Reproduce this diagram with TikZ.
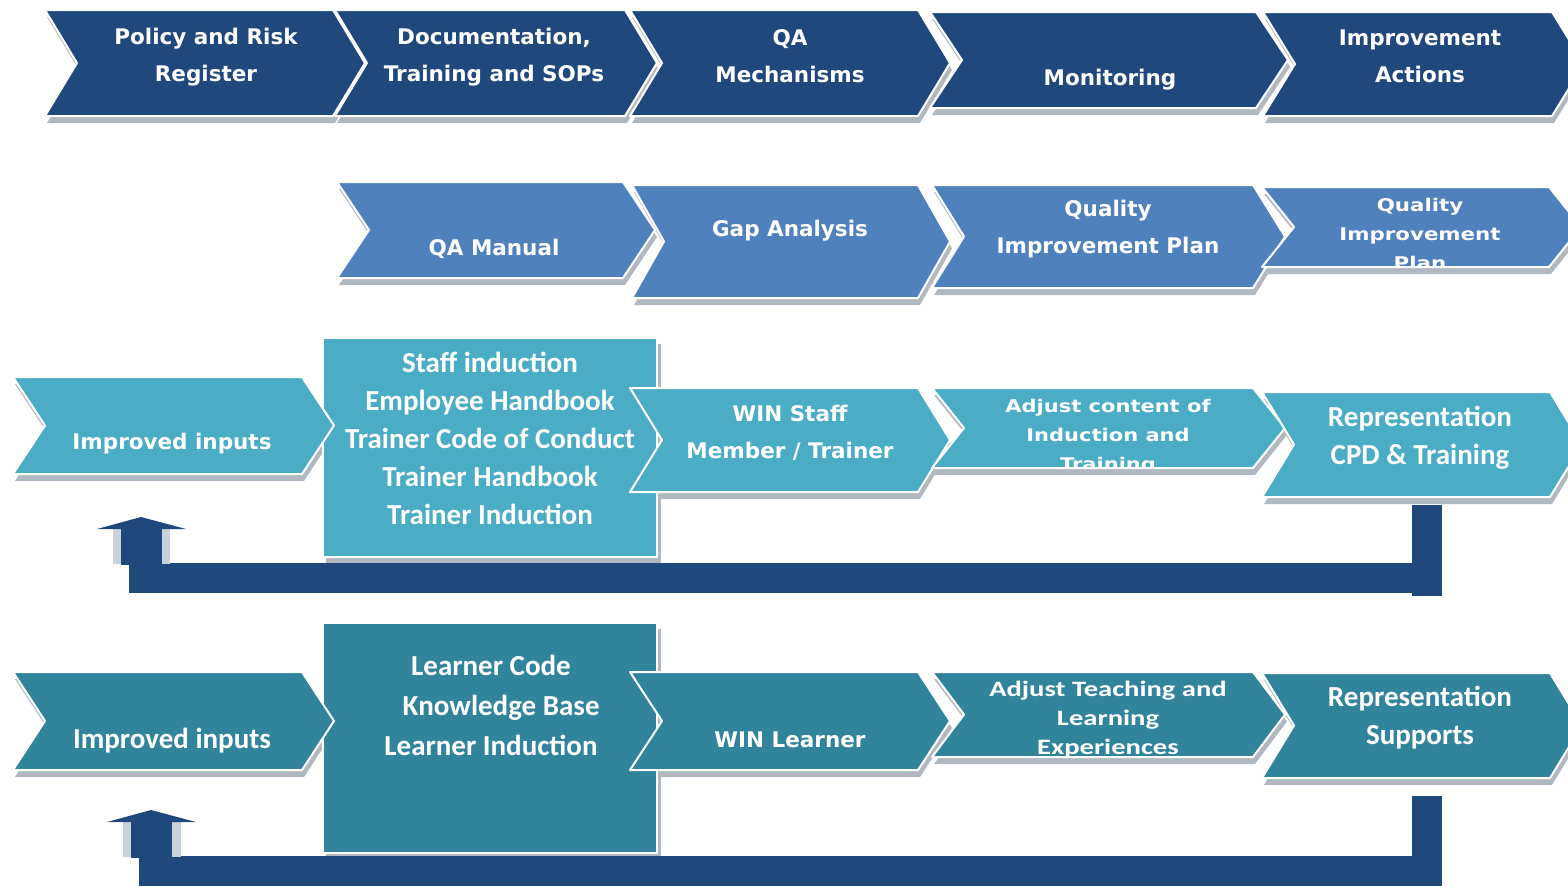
\documentclass[tikz,border=0pt]{standalone}
\usepackage{fontspec}
\newfontfamily\vfont{DejaVu Sans}
\newfontfamily\cfont{Carlito}
\definecolor{rowA}{HTML}{1F497D}
\definecolor{rowB}{HTML}{4F81BD}
\definecolor{rowC}{HTML}{4BACC6}
\definecolor{rowD}{HTML}{31849B}
\definecolor{arrowc}{HTML}{1F497D}
\definecolor{shadowc}{HTML}{B0B8C1}
\definecolor{stripc}{HTML}{C8D1DC}
\tikzset{
  vtxt/.style={text=white, align=center, inner sep=0pt, font=\vfont\bfseries\fontsize{21.5}{37}\selectfont},
  vsmall/.style={text=white, align=center, inner sep=0pt, font=\vfont\bfseries\fontsize{17.5}{29}\selectfont},
  ctxt/.style={text=white, align=center, inner sep=0pt, font=\cfont\bfseries\fontsize{29}{38}\selectfont},
  csmall/.style={text=white, align=center, inner sep=0pt, font=\cfont\bfseries\fontsize{22}{29}\selectfont},
  rim/.style={draw=white, line width=2pt, line join=round},
  shade/.style={fill=shadowc},
}
% chevron: x1, x2 (top right corner), ytop, ybottom, colour, body
\newcommand{\chevron}[6]{%
  \pgfmathsetmacro\cym{(#3+#4)/2}%
  \pgfmathsetmacro\cxa{#1+32}%
  \pgfmathsetmacro\cxb{#2+32}%
  \fill[#5] (#1,#3) -- (#2,#3) -- (\cxb,\cym) -- (#2,#4) -- (#1,#4) -- (\cxa,\cym) -- cycle;
  \begin{scope}
    \clip (#1,#3) -- (#2,#3) -- (\cxb,\cym) -- (#2,#4) -- (#1,#4) -- (\cxa,\cym) -- cycle;
    #6
  \end{scope}
  \draw[rim] (#1,#3) -- (#2,#3) -- (\cxb,\cym) -- (#2,#4) -- (#1,#4) -- (\cxa,\cym) -- cycle;
}
\newcommand{\chevshadow}[4]{%
  \pgfmathsetmacro\cym{(#3+#4)/2}%
  \pgfmathsetmacro\cxa{#1+32}%
  \pgfmathsetmacro\cxb{#2+32}%
  \begin{scope}[shift={(2,7)}]
    \fill[shade] (#1,#3) -- (#2,#3) -- (\cxb,\cym) -- (#2,#4) -- (#1,#4) -- (\cxa,\cym) -- cycle;
  \end{scope}
}
\begin{document}
\begin{tikzpicture}[x=1pt,y=-1pt]
\useasboundingbox (0,0) rectangle (1568,886);
\clip (0,0) rectangle (1568,886);

% ---------- shadows ----------
\foreach \a/\b/\c/\d in {45/333/10/116, 335/625/10/116, 630/918/10/116, 930/1256/12/108, 1263/1552/12/116,
  337/623/182/278, 632/918/185/298, 932/1253/185/288, 1262/1549/187/267,
  13/302/377/474, 630/918/388/492, 932/1253/388/468, 1262/1550/392/497,
  13/302/672/770, 630/918/672/770, 932/1253/672/757, 1262/1550/673/778}
  {\chevshadow{\a}{\b}{\c}{\d}}
\fill[shade] (326,344) rectangle (661,563);
\fill[shade] (326,629) rectangle (661,859);

% ---------- row 1 ----------
\chevron{45}{333}{10}{116}{rowA}{\node[vtxt] (t11) at (206,57) {Policy and Risk\\Register};}
\chevron{335}{625}{10}{116}{rowA}{\node[vtxt] (t12) at (494,57) {Documentation,\\Training and SOPs};}
\chevron{630}{918}{10}{116}{rowA}{\node[vtxt] (t13) at (790,56) {QA\\Mechanisms};}
\chevron{930}{1256}{12}{108}{rowA}{\node[vtxt] (t14) at (1110,80) {Monitoring};}
\chevron{1263}{1552}{12}{116}{rowA}{\node[vtxt] (t15) at (1420,56) {Improvement\\Actions};}

% ---------- row 2 ----------
\chevron{337}{623}{182}{278}{rowB}{\node[vtxt] (t21) at (494,249) {QA Manual};}
\chevron{632}{918}{185}{298}{rowB}{\node[vtxt] (t22) at (790,231) {Gap Analysis};}
\chevron{932}{1253}{185}{288}{rowB}{\node[vtxt] (t23) at (1108,229) {Quality\\Improvement Plan};}
\chevron{1262}{1549}{187}{267}{rowB}{\begin{scope}[shift={(1420,234)},xscale=1.22]\node[vsmall,transform shape] (t24) at (0,0) {Quality\\Improvement\\Plan};\end{scope}}

% ---------- row 3 ----------
\fill[rowC] (323,338) rectangle (657,557);
\draw[rim] (323,338) rectangle (657,557);
\node[ctxt] (t32) at (490,438) {Staff induction\\Employee Handbook\\Trainer Code of Conduct\\Trainer Handbook\\Trainer Induction};
\chevron{13}{302}{377}{474}{rowC}{\node[vtxt] (t31) at (172,444) {Improved inputs};}
\chevron{630}{918}{388}{492}{rowC}{\node[vtxt] (t33) at (790,433) {WIN Staff\\Member / Trainer};}
\chevron{932}{1253}{388}{468}{rowC}{\begin{scope}[shift={(1108,437)},xscale=1.2]\node[vsmall,transform shape] (t34) at (0,0) {Adjust content of\\Induction and\\Training};\end{scope}}
\chevron{1262}{1550}{392}{497}{rowC}{\node[ctxt] (t35) at (1420,438) {Representation\\CPD \& Training};}

% ---------- row 4 ----------
\fill[rowD] (323,623) rectangle (657,853);
\draw[rim] (323,623) rectangle (657,853);
\node[ctxt, font=\cfont\bfseries\fontsize{29}{40}\selectfont] (t42) at (491,705) {Learner Code\\\hspace*{0.7em}Knowledge Base\\Learner Induction};
\chevron{13}{302}{672}{770}{rowD}{\node[ctxt] (t41) at (172,741) {Improved inputs};}
\chevron{630}{918}{672}{770}{rowD}{\node[vtxt] (t43) at (790,740) {WIN Learner};}
\chevron{932}{1253}{672}{757}{rowD}{\begin{scope}[shift={(1108,720)},xscale=1.3]\node[csmall,transform shape] (t44) at (0,0) {Adjust Teaching and\\Learning\\Experiences};\end{scope}}
\chevron{1262}{1550}{673}{778}{rowD}{\node[ctxt] (t45) at (1420,718) {Representation\\Supports};}

% ---------- feedback arrow (row 3) ----------
\fill[arrowc] (1412,505) rectangle (1442,596);
\fill[arrowc] (129,563) rectangle (1442,593);
\fill[stripc] (113,529) rectangle (170,564);
\fill[arrowc] (121,527) rectangle (162,565);
\fill[arrowc] (97,529) -- (141,517) -- (186,529) -- cycle;

% ---------- feedback arrow (row 4) ----------
\fill[arrowc] (1412,796) rectangle (1442,886);
\fill[arrowc] (139,856) rectangle (1442,886);
\fill[stripc] (123,822) rectangle (181,857);
\fill[arrowc] (131,820) rectangle (172,858);
\fill[arrowc] (107,822) -- (151,810) -- (196,822) -- cycle;
\end{tikzpicture}
\end{document}
